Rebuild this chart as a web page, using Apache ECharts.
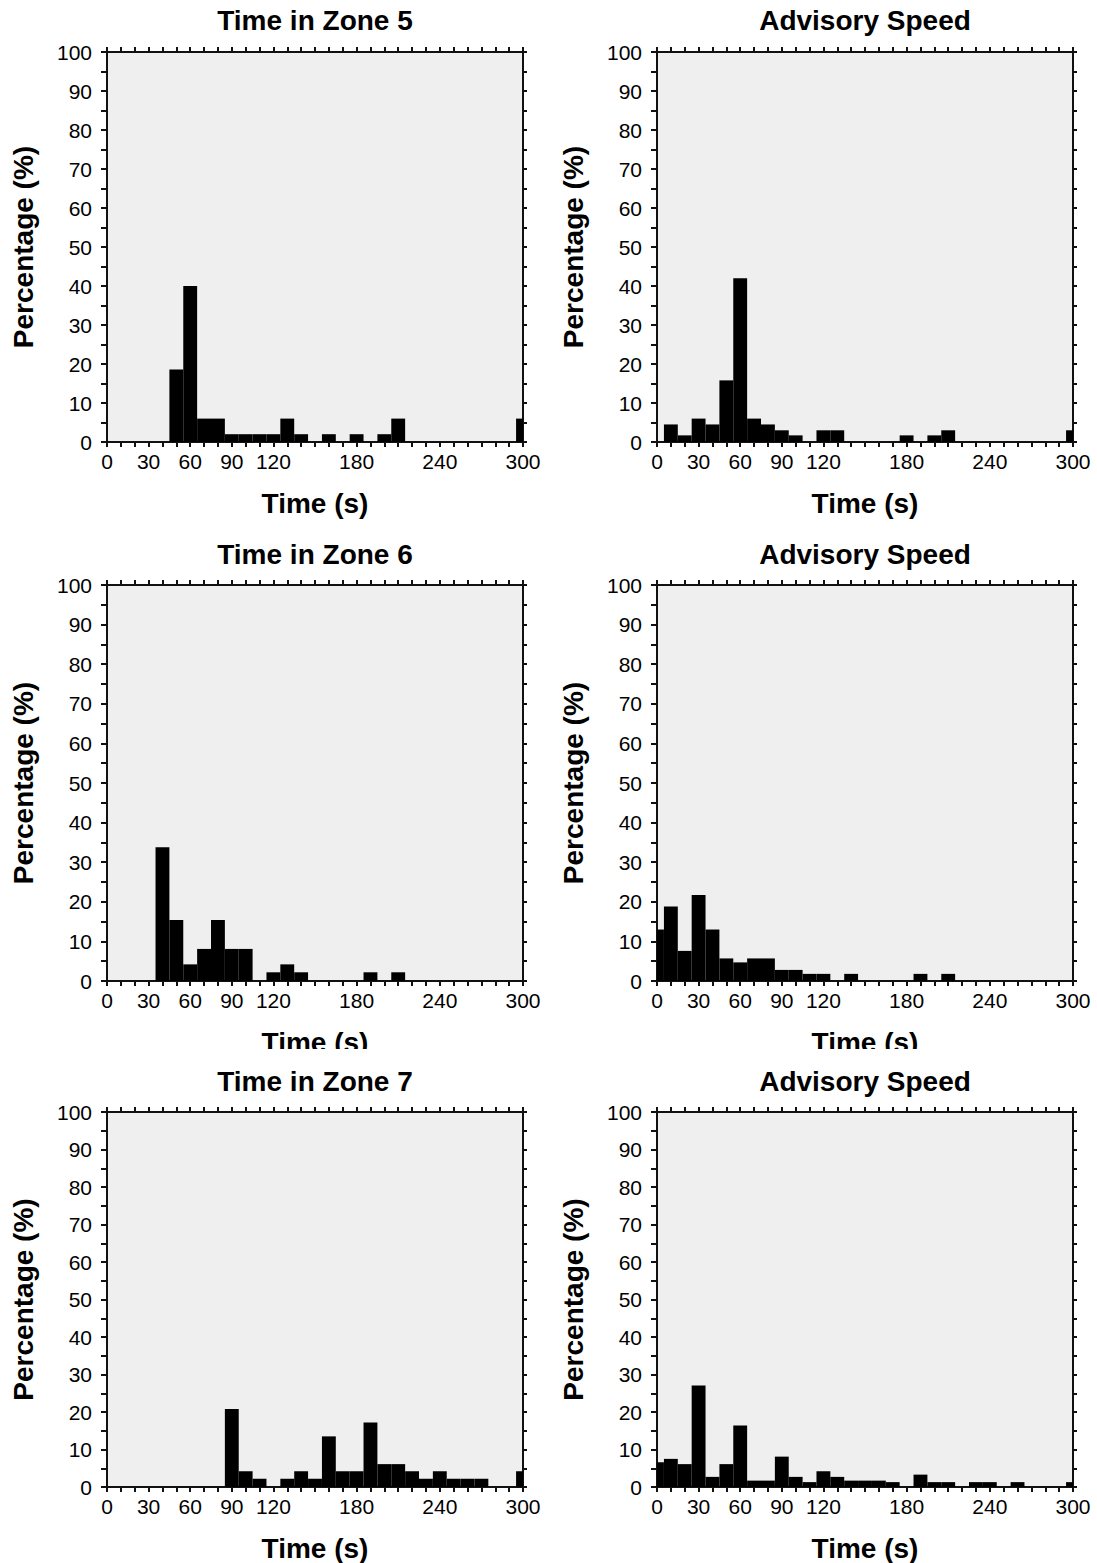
<!DOCTYPE html>
<html>
<head>
<meta charset="utf-8">
<script src="https://cdn.jsdelivr.net/npm/echarts@6/dist/echarts.min.js"></script>
<style>
html,body{margin:0;padding:0;background:#ffffff;}
#chart{width:1097px;height:1563px;}
</style>
</head>
<body>
<div id="chart"></div>
<script>
// ---------- data ----------
const timeBins = [0,10,20,30,40,50,60,70,80,90,100,110,120,130,140,150,160,170,180,190,200,210,220,230,240,250,260,270,280,290,300];
const xTickLabels = [0,30,60,90,120,180,240,300];
const panelTitles = ['Time in Zone 5','Advisory Speed','Time in Zone 6','Advisory Speed','Time in Zone 7','Advisory Speed'];
const xAxisTitle = 'Time (s)';
const yAxisTitle = 'Percentage (%)';

const zone5Time  = [0,0,0,0,0,18.6,40,6,6,2,2,2,2,6,2,0,2,0,2,0,2,6,0,0,0,0,0,0,0,0,6];
const zone5Speed = [0,4.5,1.7,6,4.5,15.8,42,6,4.5,3,1.7,0,3,3,0,0,0,0,1.7,0,1.7,3,0,0,0,0,0,0,0,0,3];
const zone6Time  = [0,0,0,0,33.8,15.4,4.2,8.1,15.4,8.1,8.1,0,2.2,4.2,2.2,0,0,0,0,2.2,0,2.2,0,0,0,0,0,0,0,0,0];
const zone6Speed = [13,18.8,7.6,21.7,13,5.7,4.7,5.7,5.7,2.8,2.8,1.8,1.8,0,1.8,0,0,0,0,1.8,0,1.8,0,0,0,0,0,0,0,0,0];
const zone7Time  = [0,0,0,0,0,0,0,0,0,20.8,4.2,2.2,0,2.2,4.2,2.2,13.5,4.2,4.2,17.2,6.1,6.1,4.2,2.2,4.2,2.2,2.2,2.2,0,0,4.2];
const zone7Speed = [6.6,7.5,6.1,27.1,2.7,6.1,16.4,1.7,1.7,8.1,2.7,1.3,4.2,2.7,1.7,1.7,1.7,1.3,0,3.3,1.3,1.3,0,1.3,1.3,0,1.3,0,0,0,1.3];

const panelSeries = [zone5Time, zone5Speed, zone6Time, zone6Speed, zone7Time, zone7Speed];

// ---------- layout ----------
const colLeft = [107, 657];
const plotWidth = 416;
const rowTop = [52, 585, 1112];
const rowHeight = [390, 396, 379];
const titleY = [22, 556, 1083];

const FONT = "'Liberation Sans', Arial, Helvetica, sans-serif";
const binHalf = 5;

const chart = echarts.init(document.getElementById('chart'), null, {renderer: 'svg', width: 1097, height: 1563});

const grids = [], xAxes = [], yAxes = [], series = [], titles = [];

panelSeries.forEach(function (vals, i) {
  const r = Math.floor(i / 2), c = i % 2;
  grids.push({
    left: colLeft[c], top: rowTop[r], width: plotWidth, height: rowHeight[r],
    show: true, backgroundColor: '#efefef', borderWidth: 0, containLabel: false
  });
  titles.push({
    text: panelTitles[i],
    left: colLeft[c] + plotWidth / 2,
    top: titleY[r] - 16,
    textAlign: 'center',
    padding: 0,
    textStyle: {fontFamily: FONT, fontSize: 28, fontWeight: 'bold', color: '#000'}
  });
  const axisLineStyle = {color: '#111', width: 2};
  // bottom x axis
  xAxes.push({
    type: 'value', gridIndex: i, position: 'bottom', min: 0, max: 300, interval: 10,
    name: xAxisTitle, nameLocation: 'middle', nameGap: 47,
    nameTextStyle: {fontFamily: FONT, fontSize: 28, fontWeight: 'bold', color: '#000'},
    axisLine: {show: true, onZero: false, lineStyle: axisLineStyle},
    axisTick: {show: true, inside: false, length: 5, lineStyle: {color: '#111', width: 2}},
    axisLabel: {
      show: true, margin: 9, fontFamily: FONT, fontSize: 21, color: '#000',
      showMinLabel: true, showMaxLabel: true,
      formatter: function (v) { return xTickLabels.indexOf(v) >= 0 ? String(v) : ''; }
    },
    splitLine: {show: false}
  });
  // top x axis (ticks only)
  xAxes.push({
    type: 'value', gridIndex: i, position: 'top', min: 0, max: 300, interval: 10,
    axisLine: {show: true, onZero: false, lineStyle: axisLineStyle},
    axisTick: {show: true, inside: false, length: 5, lineStyle: {color: '#111', width: 2}},
    axisLabel: {show: false}, splitLine: {show: false}
  });
  // left y axis
  yAxes.push({
    type: 'value', gridIndex: i, position: 'left', min: 0, max: 100, interval: 5,
    name: yAxisTitle, nameLocation: 'middle', nameGap: 70, nameRotate: 90,
    nameTextStyle: {fontFamily: FONT, fontSize: 28, fontWeight: 'bold', color: '#000'},
    axisLine: {show: true, onZero: false, lineStyle: axisLineStyle},
    axisTick: {show: true, inside: false, length: 6, lineStyle: {color: '#111', width: 2}},
    axisLabel: {
      show: true, margin: 15, fontFamily: FONT, fontSize: 21, color: '#000',
      formatter: function (v) { return v % 10 === 0 ? String(v) : ''; }
    },
    splitLine: {show: false}
  });
  // right y axis (ticks only)
  yAxes.push({
    type: 'value', gridIndex: i, position: 'right', min: 0, max: 100, interval: 5,
    axisLine: {show: true, onZero: false, lineStyle: axisLineStyle},
    axisTick: {show: true, inside: false, length: 4, lineStyle: {color: '#111', width: 2}},
    axisLabel: {show: false}, splitLine: {show: false}
  });
  series.push({
    type: 'custom',
    xAxisIndex: 2 * i, yAxisIndex: 2 * i,
    data: timeBins.map(function (t, k) { return [t, vals[k]]; }),
    clip: true,
    renderItem: function (params, api) {
      const x = api.value(0), y = api.value(1);
      if (!y) return null;
      const p0 = api.coord([x - binHalf, y]);
      const p1 = api.coord([x + binHalf, 0]);
      const cs = params.coordSys;
      const rect = echarts.graphic.clipRectByRect(
        {x: p0[0], y: p0[1], width: p1[0] - p0[0], height: p1[1] - p0[1]},
        {x: cs.x, y: cs.y, width: cs.width, height: cs.height}
      );
      if (!rect) return null;
      return {type: 'rect', shape: rect, style: {fill: '#000', stroke: null}};
    }
  });
});

chart.setOption({
  backgroundColor: '#ffffff',
  animation: false,
  title: titles,
  grid: grids,
  xAxis: xAxes,
  yAxis: yAxes,
  series: series,
  graphic: [{
    type: 'rect', z: 100, silent: true,
    shape: {x: 0, y: 1049, width: 1097, height: 17},
    style: {fill: '#ffffff'}
  }]
});
</script>
</body>
</html>
